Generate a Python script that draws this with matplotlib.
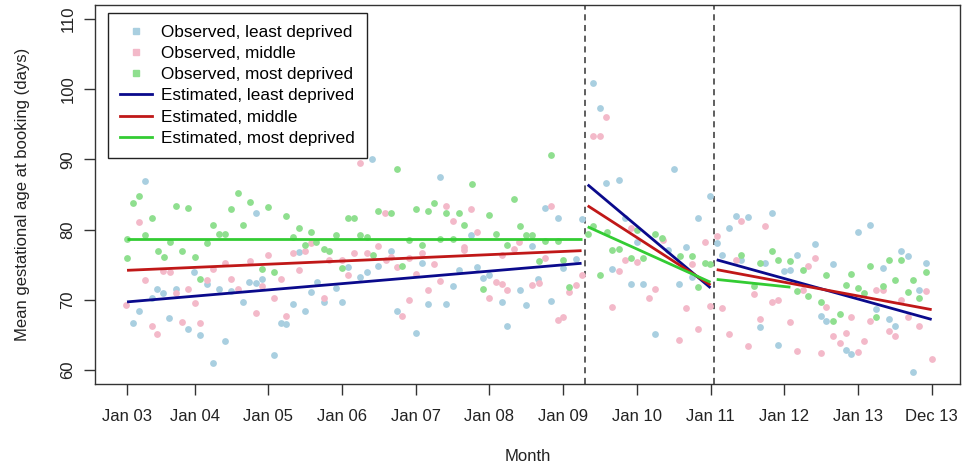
import numpy as np
import matplotlib
matplotlib.use("Agg")
import matplotlib.pyplot as plt
from matplotlib.lines import Line2D

plt.rcParams['font.family'] = ['Liberation Sans', 'DejaVu Sans']

# observed monthly means (month index 1 = Jan 03, 132 = Dec 13)
least_m = [3.9, 11.9, 5.8, 6.9, 8.9, 5, 14, 15.9, 17.9, 19.8, 3, 1.9, 7.9, 10.9, 12.9, 17, 15,
           40.9, 22, 29, 36.9, 41.9, 40, 38.9, 20.9, 22, 22.9, 32, 35, 31, 28, 33, 36, 30, 26, 26.9, 24.9,
           52, 57, 44, 66.9, 49, 57.9, 55, 59, 59.9, 54, 64.9, 50, 52.9, 62, 65.9, 45, 48, 62.9,
           76.9, 78, 90, 78.9, 81.1, 69, 71.1, 75, 82, 84.1, 89.1, 74.1, 80, 71.9, 67.9, 83, 85, 90.8, 70, 87,
           95.9, 94, 100.1, 102.1, 106, 99, 97, 92, 97.9, 101, 110, 113, 108, 109, 104.9, 104, 92.9,
           114, 114.8, 107,
           120, 122, 116, 127, 128.1, 131, 124, 130, 123, 125, 126.1, 118, 118.9, 129]
least_v = [86.9, 73.9, 71.5, 70.9, 71.5, 70.3, 72.3, 71.6, 71.3, 69.7, 68.4, 66.7, 67.4, 65.9, 65.0, 64.1, 61.0,
           90.1, 82.3, 76.8, 74.7, 74.8, 73.9, 73.3, 72.6, 72.4, 72.9, 72.6, 71.7, 71.1, 69.4, 69.7, 69.7, 68.4, 66.7, 66.5, 62.1,
           87.5, 79.3, 76.9, 77.6, 75.3, 74.7, 74.2, 73.1, 73.6, 71.9, 71.4, 69.4, 69.4, 69.7, 69.2, 68.4, 65.3, 66.2,
           100.9, 97.3, 88.7, 86.6, 87.1, 83.1, 81.6, 81.5, 81.7, 78.3, 77.1, 75.8, 74.4, 74.6, 73.0, 72.2, 72.2, 72.2, 69.8, 65.1,
           84.8, 81.6, 82.0, 81.8, 82.3, 80.2, 78.1, 77.5, 76.4, 75.6, 76.4, 78.0, 74.1, 74.2, 75.3, 66.1, 73.2,
           67.7, 67.0, 63.6,
           79.7, 80.6, 75.1, 76.9, 76.2, 75.3, 74.5, 71.4, 68.7, 67.3, 66.2, 62.8, 62.3, 59.7]

middle_m = [3, 3.9, 0.8, 6.9, 8, 8.9, 11, 12, 14, 15, 17, 17.9, 19, 5, 5.8, 10, 12.9,
            38.9, 43, 30.9, 28, 30, 24, 21, 38, 40, 41.9, 36, 33.9, 29, 43.1, 26, 36.9, 22.9, 24.9, 33, 22, 26.9,
            52.9, 57, 54, 57.9, 55.9, 55.9, 64, 49, 44, 64.8, 62, 46.9, 45, 51, 48, 52, 61, 62, 62.9, 66.9, 50, 59.9, 46.9, 45.8,
            78.9, 76.9, 78, 70, 83, 88.2, 82, 84.1, 69, 75, 81.1, 68, 87, 74.1, 73, 85.9, 80, 71.1, 71.9, 90.8,
            95.1, 101, 104.9, 97, 100.1, 113, 111.9, 92.9, 103, 111, 106, 107, 114.8, 97.9, 92, 95.9, 109, 104, 94, 99,
            102.1, 110, 114,
            123, 124, 131, 127, 118.9, 122, 128.1, 130, 125, 116, 118, 126.1, 117, 121, 120, 132]
middle_v = [81.1, 72.8, 69.2, 74.1, 73.9, 70.9, 71.6, 69.5, 72.8, 74.4, 75.2, 73.0, 71.5, 66.3, 65.1, 66.8, 66.7,
            89.5, 82.3, 78.1, 76.7, 76.9, 76.4, 75.5, 76.6, 76.7, 77.7, 75.7, 75.6, 74.2, 75.6, 72.9, 73.5, 72.0, 70.2, 70.3, 68.1, 67.7,
            83.4, 82.9, 81.2, 79.6, 77.5, 77.1, 77.3, 76.6, 76.1, 78.3, 76.4, 75.9, 74.7, 75.1, 73.7, 72.7, 72.5, 72.2, 71.4, 72.1, 71.4, 70.3, 69.9, 67.7,
            96.0, 93.3, 93.4, 83.4, 80.3, 78.5, 75.7, 75.4, 76.0, 73.6, 74.1, 72.4, 71.6, 72.1, 71.1, 70.2, 69.0, 67.1, 67.6, 64.3,
            78.3, 81.2, 80.5, 79.1, 75.7, 75.9, 74.8, 75.1, 70.8, 71.4, 69.7, 70.0, 69.0, 68.8, 68.8, 69.1, 66.9, 67.2, 65.9, 65.1,
            63.4, 62.7, 62.4,
            71.4, 71.4, 71.3, 69.9, 67.6, 67.0, 67.6, 66.2, 65.6, 64.9, 65.3, 64.8, 63.8, 64.1, 62.6, 61.6]

most_m = [1, 1, 2, 3, 3.9, 5, 6, 7, 8, 9, 10, 11, 12, 14, 15, 16, 17, 18, 19, 12.9, 19.8,
          21, 24, 26.9, 29, 36.9, 38, 41.9, 30.9, 28, 35, 38.9, 40, 30, 31.8, 33, 33.9, 41, 22.9, 24.9, 36,
          45, 57.1, 64, 50.9, 48, 50, 44, 52.9, 55, 59.9, 55.9, 64.9, 61, 52, 54, 65.9, 66.9, 46.9, 49, 62.9, 45.8, 59,
          70, 76.1, 76.9, 79.1, 69, 71.1, 87, 88.1, 84.1, 80, 81.1, 83, 85, 68, 71.9, 78, 73,
          91, 92.9, 101, 106, 107, 109, 111, 104, 95.1, 95.9, 94, 103, 110, 111.9, 114.8, 114,
          125.1, 127, 122, 118.9, 131, 126.1, 129, 118, 120, 124, 128.1, 121, 130, 117, 116, 123]
most_v = [78.6, 75.9, 83.8, 84.8, 79.2, 81.7, 77.0, 76.1, 78.3, 83.3, 76.9, 83.1, 76.1, 78.1, 80.7, 79.4, 79.4, 83.0, 85.2, 72.9, 80.7,
          83.9, 83.2, 81.9, 80.3, 81.7, 81.6, 82.7, 79.6, 79.0, 79.3, 79.3, 79.0, 77.8, 78.2, 77.3, 77.0, 76.4, 74.4, 73.9, 74.6,
          88.7, 86.5, 84.3, 83.8, 82.9, 82.7, 82.4, 82.3, 82.3, 82.1, 80.7, 80.5, 79.4, 78.7, 78.7, 79.2, 79.2, 78.5, 77.8, 77.8, 74.8, 71.6,
          90.6, 79.4, 80.5, 79.6, 78.4, 78.4, 79.4, 78.8, 79.9, 77.1, 77.3, 76.0, 75.9, 75.5, 75.6, 73.6, 71.8,
          76.3, 76.2, 76.4, 77.0, 75.7, 75.5, 74.2, 75.2, 75.3, 75.1, 71.8, 72.0, 71.3, 70.5, 73.6, 69.7,
          75.6, 75.6, 74.8, 73.7, 73.9, 72.8, 72.8, 72.1, 71.7, 72.0, 71.1, 71.0, 70.2, 68.0, 67.0, 67.6]

# fitted segments: (start month, end month, start value, end value)
seg_start = [1, 76, 97]
seg_end = [75, 96, 132]
fit_least = [(69.7, 75.2), (86.4, 71.7), (75.7, 67.2)]
fit_middle = [(74.2, 77.0), (83.4, 72.1), (74.3, 68.6)]
fit_most = [(78.7, 78.7), (80.4, 72.5), (72.9, 71.8)]
most_last_end = 109   # most deprived fit stops early in last period

breaks = [75.5, 96.5]
tick_pos = [1, 12, 24, 36, 48, 60, 72, 84, 96, 108, 120, 132]
tick_lab = ['Jan 03', 'Jan 04', 'Jan 05', 'Jan 06', 'Jan 07', 'Jan 08', 'Jan 09',
            'Jan 10', 'Jan 11', 'Jan 12', 'Jan 13', 'Dec 13']

pt_cols = ['#a9cfe0', '#f3b9c9', '#8fdf8f']
ln_cols = ['#0a0a8c', '#c01818', '#33cc33']

fig = plt.figure(figsize=(9.63, 4.69), dpi=100)
ax = fig.add_axes([0.0985, 0.1812, 0.8983, 0.8081])

ax.scatter(least_m, least_v, s=24, color=pt_cols[0], lw=0, zorder=2)
ax.scatter(middle_m, middle_v, s=24, color=pt_cols[1], lw=0, zorder=2)
ax.scatter(most_m, most_v, s=24, color=pt_cols[2], lw=0, zorder=2)

for fits, col in [(fit_least, ln_cols[0]), (fit_middle, ln_cols[1]), (fit_most, ln_cols[2])]:
    for i in range(3):
        x0, x1 = seg_start[i], seg_end[i]
        y0, y1 = fits[i]
        if col == ln_cols[2] and i == 2:
            x1 = most_last_end
        ax.plot([x0, x1], [y0, y1], color=col, lw=2, zorder=3, solid_capstyle='butt')

for b in breaks:
    ax.axvline(b, color='#333333', lw=1.1, ls=(0, (4, 3)), zorder=1)

ax.set_xlim(-4.24, 136.6)
ax.set_ylim(58, 112)
ax.set_xticks(tick_pos)
ax.set_xticklabels(tick_lab, fontsize=12)
ax.set_yticks([60, 70, 80, 90, 100, 110])
ax.set_yticklabels(['60', '70', '80', '90', '100', '110'], fontsize=12, rotation=90, va='center')
ax.tick_params(direction='out', length=8, width=1, color='#333333', labelcolor='#222222', pad=6)
ax.tick_params(axis='x', pad=10)
for sp in ax.spines.values():
    sp.set_color('#333333')
    sp.set_linewidth(1)

ax.set_xlabel('Month', fontsize=12, color='#222222', labelpad=18)
ax.set_ylabel('Mean gestational age at booking (days)', fontsize=12, color='#222222', labelpad=22)

handles = [
    Line2D([], [], ls='', marker='s', ms=4, color=pt_cols[0]),
    Line2D([], [], ls='', marker='s', ms=4, color=pt_cols[1]),
    Line2D([], [], ls='', marker='s', ms=4, color=pt_cols[2]),
    Line2D([], [], color=ln_cols[0], lw=2),
    Line2D([], [], color=ln_cols[1], lw=2),
    Line2D([], [], color=ln_cols[2], lw=2),
]
labels = ['Observed, least deprived', 'Observed, middle', 'Observed, most deprived',
          'Estimated, least deprived', 'Estimated, middle', 'Estimated, most deprived']
leg = ax.legend(handles, labels, loc='upper left', bbox_to_anchor=(0.0151, 0.979),
                fontsize=12.3, frameon=True, fancybox=False, borderpad=0.7,
                labelspacing=0.36, handlelength=1.9, handletextpad=0.5, borderaxespad=0)
leg.get_frame().set_edgecolor('#222222')
leg.get_frame().set_linewidth(1)
leg.get_frame().set_alpha(1)

fig.savefig('out.png', dpi=100)
